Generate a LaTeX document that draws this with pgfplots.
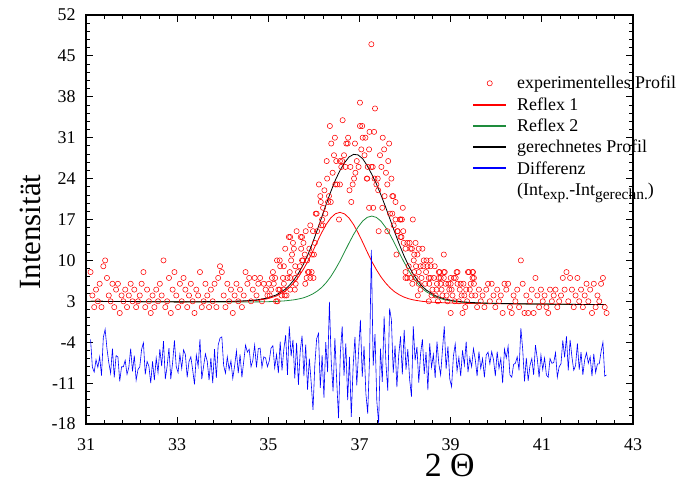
\documentclass[border=0pt]{standalone}
\usepackage{fontspec}
\setmainfont{Liberation Serif}
\usepackage{pgfplots}
\pgfplotsset{compat=1.18}
\definecolor{myred}{RGB}{255,0,0}
\definecolor{mygreen}{RGB}{30,140,60}
\definecolor{myblue}{RGB}{0,0,255}
\pgfplotsset{
  lineimg/.style={legend image code/.code={\draw[##1,line width=2bp] (0bp,0bp) -- (33bp,0bp);}},
  markimg/.style={legend image code/.code={\draw[##1,mark repeat=2,mark phase=2] plot coordinates {(0bp,0bp) (16.5bp,0bp) (33bp,0bp)};}},
}
\newcommand{\lh}{\vphantom{(Ig)}}
\newcommand{\sub}[1]{\raisebox{-4.5bp}{\fontsize{15.5}{16}\selectfont #1}}
\begin{document}
\begin{tikzpicture}
\path[use as bounding box] (0,0) rectangle (681bp,482bp);
\begin{axis}[
  at={(86bp,58bp)}, anchor=south west,
  scale only axis, width=547bp, height=409bp,
  xmin=31, xmax=43, ymin=-18, ymax=52,
  xtick={31,33,...,43}, ytick={-18,-11,...,52},
  minor x tick num=4, minor y tick num=4,
  tick align=inside,
  major tick length=7bp, minor tick length=4bp,
  axis line style={line width=1.2bp},
  every tick/.style={black, line width=0.8bp},
  tick label style={font=\fontsize{18}{20}\selectfont},
  /pgf/number format/assume math mode=true,
  xticklabel style={yshift=-11bp},
  yticklabel style={xshift=-7bp},
  every axis x label/.style={at={(rel axis cs:0.665,0)}, anchor=base, yshift=-52bp, font=\fontsize{34}{36}\selectfont},
  every axis y label/.style={at={(rel axis cs:-0.084,0.469)}, anchor=base, rotate=90, font=\fontsize{31}{33}\selectfont},
  xlabel={2 Θ}, ylabel={Intensität},
  legend style={draw=none, fill=none, at={(rel axis cs:0.7057,0.8557)}, anchor=north west,
    font=\fontsize{18}{20}\selectfont, inner sep=0pt, row sep=3.2bp, column sep=8bp},
  legend cell align=left,
]
% experimental profile
\addplot[only marks, mark=o, color=myred, mark size=2.6bp, mark options={line width=0.55bp}, markimg]
coordinates {
(31.10,8)(31.14,4)(31.18,2)(31.22,5)(31.26,3)(31.30,6)(31.34,2)(31.38,9)(31.42,10)(31.46,7)
(31.50,4)(31.54,3)(31.58,6)(31.62,2)(31.66,5)(31.70,6)(31.74,1)(31.78,4)(31.82,3)(31.86,5)
(31.90,2)(31.94,4)(31.98,6)(32.02,3)(32.06,5)(32.10,2)(32.14,3)(32.18,4)(32.22,6)(32.26,8)
(32.30,2)(32.34,5)(32.38,3)(32.42,1)(32.46,4)(32.50,2)(32.54,5)(32.58,3)(32.62,6)(32.66,4)
(32.70,10)(32.74,2)(32.78,3)(32.82,7)(32.86,1)(32.90,5)(32.94,8)(32.98,4)(33.02,2)(33.06,6)
(33.10,3)(33.14,7)(33.18,5)(33.22,2)(33.26,4)(33.30,6)(33.34,3)(33.38,1)(33.42,5)(33.46,4)
(33.50,8)(33.54,2)(33.58,3)(33.62,6)(33.66,4)(33.70,2)(33.74,5)(33.78,3)(33.82,6)(33.86,2)
(33.90,7)(33.94,9)(33.98,8)(34.02,4)(34.06,2)(34.10,6)(34.14,3)(34.18,5)(34.22,1)(34.26,4)
(34.30,6)(34.34,3)(34.38,5)(34.42,2)(34.46,4)(34.50,8)(34.54,6)(34.58,7)(34.62,3)(34.66,5)
(34.70,7)(34.74,4)(34.78,6)(34.82,7)(34.86,3)(34.90,6)(34.94,5)(34.98,4)
(35.01,6)(35.03,4)(35.06,5)(35.08,7)(35.10,8)(35.12,6)(35.15,7)(35.17,3)(35.19,10)(35.20,3)
(35.22,5)(35.25,10)(35.25,5)(35.26,9)(35.29,4)(35.32,7)(35.34,9)(35.34,6)(35.34,5)(35.36,4)
(35.37,12)(35.40,4)(35.42,7)(35.45,14)(35.47,8)(35.48,14)(35.48,7)(35.48,5)(35.50,10)(35.52,11)
(35.54,13)(35.56,12)(35.58,5)(35.59,9)(35.59,7)(35.60,6)(35.62,15)(35.65,8)(35.69,9)(35.71,14)
(35.72,12)(35.74,14)(35.74,10)(35.76,10)(35.77,13)(35.80,11)(35.81,6)(35.82,15)(35.84,7)(35.85,10)
(35.87,8)(35.89,8)(35.90,12)(35.92,16)(35.92,7)(35.95,8)(35.96,11)(35.98,15)(35.99,7)(36.00,11)
(36.02,13)(36.04,18)(36.06,18)(36.07,15)(36.11,23)(36.14,21)(36.15,20)(36.16,16)(36.18,17)(36.20,19)
(36.20,16)(36.23,22)(36.25,18)(36.28,27)(36.29,24)(36.31,20)(36.33,21)(36.35,33)(36.37,20)(36.38,30)
(36.41,25)(36.44,28)(36.46,31)(36.47,23)(36.49,27)(36.51,23)(36.55,17)(36.57,27)(36.57,23)(36.60,26)
(36.62,27)(36.63,34)(36.66,28)(36.69,26)(36.71,30)(36.74,30)(36.75,31)(36.78,22)(36.80,26)(36.82,20)
(36.85,23)(36.88,24)(36.90,30)(36.91,25)(36.94,27)(36.98,26)(37.01,37)(37.01,33)(37.04,29)(37.06,33)
(37.07,31)(37.11,28)(37.13,31)(37.16,24)(37.17,24)(37.18,26)(37.21,29)(37.21,19)(37.22,32)(37.26,47)
(37.26,26)(37.29,26)(37.30,19)(37.32,32)(37.33,24)(37.34,36)(37.37,23)(37.40,24)(37.41,22)(37.42,15)
(37.45,28)(37.48,26)(37.50,19)(37.51,31)(37.54,29)(37.55,21)(37.58,25)(37.61,23)(37.61,15)(37.63,27)
(37.65,30)(37.67,18)(37.70,24)(37.72,21)(37.72,18)(37.74,21)(37.75,16)(37.79,20)(37.79,17)(37.81,11)
(37.83,15)(37.84,15)(37.89,17)(37.90,17)(37.90,14)(37.92,14)(37.93,17)(37.95,19)(37.96,15)(37.97,13)
(38.01,12)(38.01,8)(38.01,7)(38.05,13)(38.05,7)(38.08,9)(38.10,13)(38.12,12)(38.12,7)(38.15,12)
(38.16,6)(38.17,17)(38.19,10)(38.20,11)(38.20,8)(38.23,13)(38.23,7)(38.24,9)(38.27,11)(38.28,4)
(38.30,12)(38.30,8)(38.30,6)(38.34,9)(38.34,5)(38.36,7)(38.38,12)(38.40,9)(38.41,10)(38.44,6)
(38.46,8)(38.47,10)(38.49,9)(38.52,7)(38.52,3)(38.53,6)(38.56,10)(38.56,9)(38.56,7)(38.58,4)
(38.60,5)(38.63,7)(38.65,9)(38.67,4)(38.69,5)(38.70,6)(38.72,3)(38.74,8)(38.74,7)(38.76,8)
(38.78,6)(38.78,7)(38.80,5)(38.82,4)(38.85,11)(38.85,8)(38.85,7)(38.87,8)(38.89,6)(38.91,4)
(38.93,3)(38.95,6)(38.97,5)(39.00,6)(39.00,7)(39.00,1)(39.02,5)(39.04,4)(39.07,7)(39.09,3)
(39.11,7)(39.13,8)(39.15,8)(39.15,6)(39.18,3)(39.20,5)(39.22,6)(39.24,4)(39.26,1)(39.28,6)
(39.30,4)(39.32,2)(39.34,5)(39.36,3)(39.38,8)(39.40,8)(39.42,5)(39.44,6)(39.46,4)(39.48,8)
(39.48,7)(39.49,8)(39.51,6)(39.51,7)
(39.54,4)(39.58,2)(39.62,5)(39.66,3)(39.70,4)(39.74,2)(39.78,5)(39.82,6)(39.86,3)(39.90,6)
(39.94,4)(39.98,2)(40.02,5)(40.06,3)(40.10,4)(40.14,1)(40.18,6)(40.22,5)(40.26,6)(40.30,2)
(40.34,1)(40.38,4)(40.42,3)(40.46,5)(40.50,2)(40.54,10)(40.58,6)(40.62,1)(40.66,4)(40.70,1)
(40.74,3)(40.78,5)(40.82,1)(40.86,7)(40.90,4)(40.94,2)(40.98,5)(41.02,3)(41.06,4)(41.10,2)
(41.14,1)(41.18,5)(41.22,3)(41.26,4)(41.30,5)(41.34,2)(41.38,3)(41.42,4)(41.46,7)(41.50,5)
(41.54,8)(41.58,3)(41.62,7)(41.66,5)(41.70,2)(41.74,4)(41.78,7)(41.82,3)(41.86,5)(41.90,2)
(41.94,4)(41.98,6)(42.02,3)(42.06,5)(42.10,1)(42.14,6)(42.18,2)(42.22,4)(42.26,3)(42.30,6)
(42.34,7)(42.38,2)(42.42,1)
};
\addlegendentry{\lh experimentelles Profil}
% Reflex 1
\addplot[color=myred, line width=0.8bp, mark=none, lineimg]
coordinates {
(31.10,3.00)(31.57,2.97)(32.07,2.95)(32.57,2.92)(33.07,2.90)(33.57,2.92)(33.97,2.93)(34.17,2.95)
(34.37,2.99)(34.57,3.05)(34.77,3.18)(34.97,3.42)(35.17,3.88)(35.37,4.75)(35.47,5.42)(35.57,6.26)
(35.67,7.27)(35.77,8.50)(35.87,9.89)(35.97,11.48)(36.07,13.15)(36.17,14.75)(36.27,16.16)(36.37,17.27)
(36.47,17.98)(36.57,18.22)(36.67,17.97)(36.77,17.25)(36.87,16.13)(36.97,14.71)(37.07,13.10)(37.17,11.42)
(37.27,9.82)(37.37,8.42)(37.47,7.18)(37.57,6.16)(37.67,5.31)(37.77,4.63)(37.87,4.13)(37.97,3.74)
(38.07,3.46)(38.17,3.26)(38.27,3.12)(38.37,3.00)(38.47,2.92)(38.67,2.81)(38.87,2.75)(39.07,2.69)
(39.27,2.66)(39.47,2.63)(39.77,2.60)(40.07,2.58)(40.57,2.54)(41.07,2.51)(41.57,2.47)(42.07,2.45)(42.40,2.44)
};
\addlegendentry{\lh Reflex 1}
% Reflex 2
\addplot[color=mygreen, line width=0.8bp, mark=none, lineimg]
coordinates {
(31.10,3.00)(31.57,2.97)(32.07,2.95)(32.57,2.92)(33.07,2.90)(33.57,2.89)(33.97,2.88)(34.17,2.88)
(34.37,2.88)(34.57,2.89)(34.77,2.90)(34.97,2.93)(35.17,2.98)(35.37,3.08)(35.47,3.17)(35.57,3.26)
(35.67,3.41)(35.77,3.59)(35.87,3.88)(35.97,4.24)(36.07,4.73)(36.17,5.36)(36.27,6.20)(36.37,7.23)
(36.47,8.48)(36.57,9.87)(36.67,11.41)(36.77,12.96)(36.87,14.44)(36.97,15.72)(37.07,16.74)(37.17,17.37)
(37.27,17.59)(37.37,17.36)(37.47,16.72)(37.57,15.69)(37.67,14.40)(37.77,12.91)(37.87,11.35)(37.97,9.80)
(38.07,8.40)(38.17,7.14)(38.27,6.10)(38.37,5.25)(38.47,4.61)(38.67,3.74)(38.87,3.25)(39.07,2.99)
(39.27,2.83)(39.47,2.74)(39.77,2.65)(40.07,2.61)(40.57,2.55)(41.07,2.52)(41.57,2.48)(42.07,2.45)(42.40,2.44)
};
\addlegendentry{\lh Reflex 2}
% calculated profile
\addplot[color=black, line width=0.8bp, mark=none, lineimg]
coordinates {
(31.10,3.00)(31.57,2.97)(32.07,2.95)(32.57,2.92)(33.07,2.90)(33.57,2.94)(33.97,2.96)(34.17,2.99)
(34.37,3.04)(34.57,3.12)(34.77,3.27)(34.97,3.55)(35.17,4.07)(35.37,5.05)(35.47,5.81)(35.57,6.75)
(35.67,7.91)(35.77,9.33)(35.87,11.01)(35.97,12.97)(36.07,15.13)(36.17,17.37)(36.27,19.62)(36.37,21.77)
(36.47,23.73)(36.57,25.37)(36.67,26.70)(36.77,27.70)(36.87,28.15)(36.97,28.05)(37.07,27.40)(37.17,26.20)
(37.27,24.72)(37.37,23.10)(37.47,21.22)(37.57,19.18)(37.67,17.04)(37.77,14.88)(37.87,12.82)(37.97,10.89)
(38.07,9.21)(38.17,7.76)(38.27,6.58)(38.37,5.62)(38.47,4.90)(38.67,3.93)(38.87,3.39)(39.07,3.08)
(39.27,2.90)(39.47,2.79)(39.77,2.69)(40.07,2.64)(40.57,2.57)(41.07,2.53)(41.57,2.48)(42.07,2.45)(42.40,2.44)
};
\addlegendentry{\lh gerechnetes Profil}
% difference
\addplot[color=myblue, line width=0.6bp, mark=none, lineimg]
coordinates {
(31.10,-3.5)(31.14,-8.3)(31.18,-9.1)(31.22,-7.0)(31.26,-8.3)(31.30,-6.5)(31.34,-9.7)(31.38,-3.2)(31.42,-1.8)(31.46,-5.1)
(31.50,-7.5)(31.54,-9.3)(31.58,-5.1)(31.62,-10.0)(31.66,-6.3)(31.70,-6.5)(31.74,-10.7)(31.78,-8.2)(31.82,-8.2)(31.86,-7.1)
(31.90,-9.5)(31.94,-8.3)(31.98,-5.1)(32.02,-9.0)(32.06,-6.3)(32.10,-10.5)(32.14,-8.7)(32.18,-8.2)(32.22,-5.2)(32.26,-4.1)
(32.30,-9.5)(32.34,-7.3)(32.38,-8.1)(32.42,-11.0)(32.46,-7.3)(32.50,-10.5)(32.54,-6.7)(32.58,-9.2)(32.62,-5.2)(32.66,-8.1)
(32.70,-3.8)(32.74,-10.3)(32.78,-8.1)(32.82,-5.0)(32.86,-10.3)(32.90,-7.5)(32.94,-3.7)(32.98,-8.2)(33.02,-9.2)(33.06,-6.1)
(33.10,-8.5)(33.14,-5.3)(33.18,-6.1)(33.22,-10.0)(33.26,-7.3)(33.30,-6.5)(33.34,-8.7)(33.38,-11.2)(33.42,-6.2)(33.46,-8.1)
(33.50,-3.5)(33.54,-10.3)(33.58,-8.1)(33.62,-6.0)(33.66,-7.3)(33.70,-10.5)(33.74,-6.7)(33.78,-11.0)(33.82,-5.2)(33.86,-10.1)
(33.90,-4.5)(33.94,-3.3)(33.98,-3.1)(34.02,-8.0)(34.06,-9.3)(34.10,-6.5)(34.14,-8.7)(34.18,-7.2)(34.22,-10.2)(34.26,-8.1)
(34.30,-5.5)(34.34,-9.3)(34.38,-6.1)(34.42,-10.0)(34.46,-7.3)(34.50,-4.5)(34.54,-5.7)(34.58,-5.2)(34.62,-8.2)(34.66,-7.1)
(34.70,-4.5)(34.74,-8.3)(34.78,-5.1)(34.82,-5.0)(34.86,-8.3)(34.90,-6.5)(34.94,-6.7)(34.98,-8.2)
(35.02,-7.2)(35.06,-5.0)(35.10,-4.6)(35.14,-8.4)(35.18,-6.1)(35.22,-9.3)(35.26,-3.9)(35.30,-8.8)(35.34,-5.2)(35.38,-2.8)
(35.42,-9.6)(35.46,-1.3)(35.50,-6.4)(35.54,-3.6)(35.58,-10.2)(35.62,-4.1)(35.66,-11.3)(35.70,-5.5)(35.74,-2.9)(35.78,-9.8)
(35.82,-4.4)(35.86,-12.1)(35.90,-6.8)(35.94,-10.9)(35.98,-15.6)(36.02,-7.9)(36.06,-3.4)(36.10,-2.5)(36.14,-11.8)(36.18,-6.2)
(36.22,-13.5)(36.26,-4.0)(36.30,-9.1)(36.34,2.9)(36.38,-7.3)(36.42,-12.4)(36.46,-3.3)(36.50,-10.6)(36.54,-17.0)(36.58,-5.8)
(36.62,-1.3)(36.66,-9.7)(36.70,-4.2)(36.74,-13.9)(36.78,-6.5)(36.82,-16.8)(36.86,-8.2)(36.90,-3.1)(36.94,-11.4)(36.98,-5.6)
(37.02,-0.2)(37.06,-9.9)(37.10,-4.7)(37.14,-12.8)(37.18,-16.2)(37.22,-6.9)(37.26,11.8)(37.30,-8.0)(37.34,-2.6)(37.38,-14.1)
(37.42,-17.9)(37.46,-5.1)(37.50,-10.8)(37.54,0.4)(37.58,-7.6)(37.62,-12.3)(37.66,1.8)(37.70,-0.2)(37.74,-9.2)(37.78,-4.6)
(37.82,-11.7)(37.86,-6.3)(37.90,-3.0)(37.94,-9.5)(37.98,-1.9)(38.02,-8.7)(38.06,-5.2)(38.10,-10.4)(38.14,-13.3)(38.18,-1.3)
(38.22,-7.1)(38.26,-4.8)(38.30,-10.9)(38.34,-6.0)(38.38,-3.5)(38.42,-9.4)(38.46,-5.7)(38.50,-12.2)(38.54,-4.2)(38.58,-8.3)
(38.62,-6.1)(38.66,-10.1)(38.70,-3.9)(38.74,-7.7)(38.78,-9.6)(38.82,-5.3)(38.86,-1.3)(38.90,-8.6)(38.94,-4.7)(38.98,-10.3)
(39.02,-11.6)(39.06,-6.4)(39.10,-4.3)(39.14,-8.9)(39.18,-6.6)(39.22,-9.8)(39.26,-5.4)(39.30,-7.9)(39.34,-3.9)(39.38,-9.1)
(39.42,-6.7)(39.46,-8.2)(39.50,-5.1)
(39.54,-7.0)(39.58,-9.8)(39.62,-5.6)(39.66,-8.5)(39.70,-6.8)(39.74,-10.0)(39.78,-6.2)(39.82,-5.7)(39.86,-7.7)(39.90,-5.6)
(39.94,-7.0)(39.98,-9.8)(40.02,-5.6)(40.06,-8.5)(40.10,-6.8)(40.14,-11.0)(40.18,-5.2)(40.22,-6.7)(40.26,-4.7)(40.30,-9.6)
(40.34,-10.0)(40.38,-7.8)(40.42,-7.6)(40.46,-6.5)(40.50,-8.8)(40.54,-1.6)(40.58,-5.2)(40.62,-10.7)(40.66,-6.7)(40.70,-10.6)
(40.74,-8.0)(40.78,-6.8)(40.82,-9.6)(40.86,-4.5)(40.90,-6.8)(40.94,-10.0)(40.98,-6.2)(41.02,-8.7)(41.06,-6.7)(41.10,-9.6)
(41.14,-10.0)(41.18,-6.8)(41.22,-7.6)(41.26,-7.5)(41.30,-5.8)(41.34,-10.0)(41.38,-8.2)(41.42,-7.7)(41.46,-3.7)(41.50,-6.6)
(41.54,-3.0)(41.58,-8.8)(41.62,-3.6)(41.66,-6.5)(41.70,-8.8)(41.74,-8.0)(41.78,-4.2)(41.82,-8.7)(41.86,-5.7)(41.90,-9.6)
(41.94,-7.0)(41.98,-5.8)(42.02,-7.6)(42.06,-6.5)(42.10,-9.8)(42.14,-6.0)(42.18,-9.2)(42.22,-7.7)(42.26,-7.7)(42.30,-5.6)
(42.34,-4.0)(42.38,-9.8)(42.42,-9.6)
};
\addlegendentry{\lh Differenz}
\addlegendimage{empty legend}
\addlegendentry{\lh (Int\sub{exp.}-Int\sub{gerechn.})}
\end{axis}
\end{tikzpicture}
\end{document}
